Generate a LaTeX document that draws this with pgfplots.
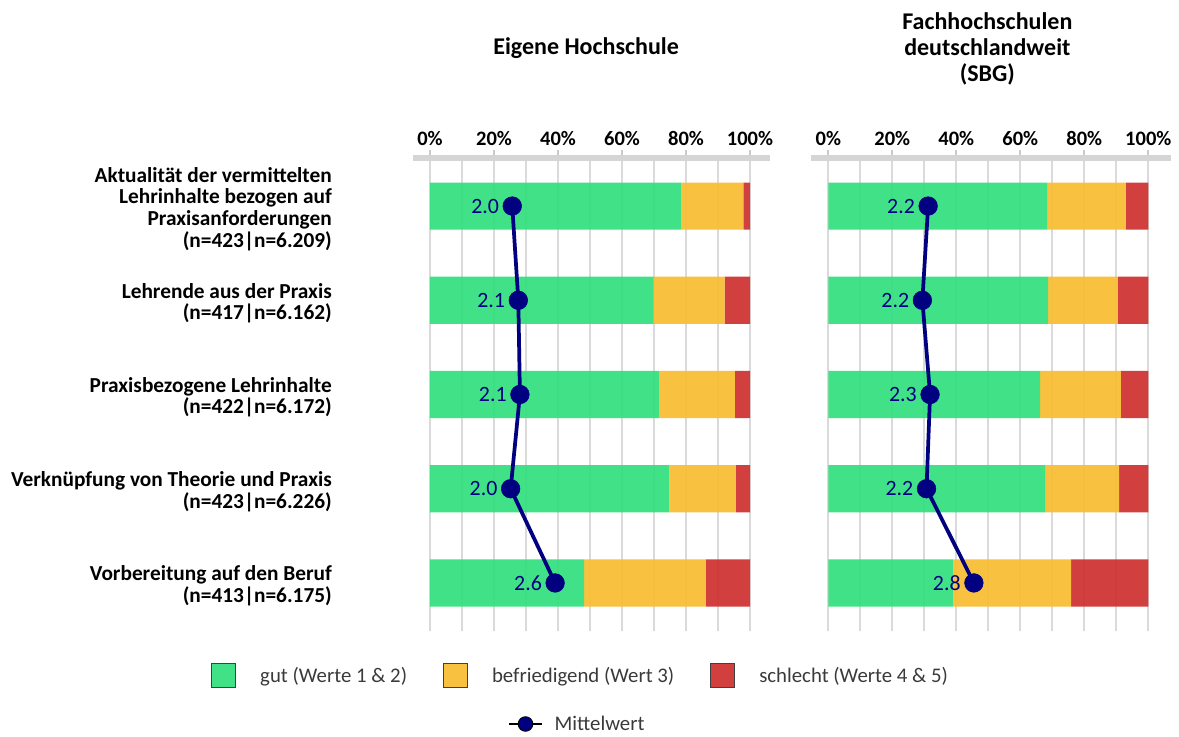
\documentclass[border=0pt]{standalone}
\usepackage{fontspec}
\setmainfont{Carlito}
\usepackage{pgfplots}
\usepackage{pgfplotstable}
\pgfplotsset{compat=1.18}
\definecolor{gut}{HTML}{35E07F}
\definecolor{mittel}{HTML}{F8BE34}
\definecolor{schlecht}{HTML}{CF3333}
\definecolor{mwblau}{HTML}{000080}
\definecolor{gridc}{HTML}{DADADA}
\definecolor{tickc}{HTML}{CACACA}
\definecolor{legtext}{HTML}{3A3A3A}
\newcommand\tickfont{\fontsize{15.4}{18}\selectfont\bfseries}
\newcommand\labfont{\fontsize{16}{16.3}\selectfont\bfseries}
\newcommand\titfont{\fontsize{18}{19.5}\selectfont\bfseries}
\newcommand\numfont{\fontsize{16.4}{18}\selectfont}
\newcommand\legfont{\fontsize{15.6}{18}\selectfont}

% Anteile in %, Mittelwert als Position auf der %-Achse
\pgfplotstableread{
y gut mittel schlecht mw lab
5 78.4 19.5 2.1 25.7 2.0
4 69.9 22.2 7.9 27.6 2.1
3 71.5 23.8 4.7 28.1 2.1
2 74.8 20.7 4.5 25.2 2.0
1 48.2 38.0 13.8 39.1 2.6
}\eigene
\pgfplotstableread{
y gut mittel schlecht mw lab
5 68.4 24.5 7.1 31.2 2.2
4 68.7 21.8 9.5 29.4 2.2
3 66.2 25.2 8.6 31.8 2.3
2 67.9 23.0 9.1 30.7 2.2
1 39.1 36.8 24.1 45.5 2.8
}\sbg

\tikzset{rowlab/.style={anchor=east, align=right, inner sep=0pt, font=\labfont, xshift=-60.5pt, yshift=-3.5pt}}
\pgfplotsset{
  mycommon/.style={scale only axis, height=354.75pt, ymin=0.49, ymax=5.51, clip=false},
  barax/.style={mycommon,
    xbar stacked, bar width=0.5,
    ytick=\empty, axis line style={draw=none},
    xtick={0,20,...,100}, minor xtick={10,30,...,90},
    xticklabels={0\%,20\%,40\%,60\%,80\%,100\%},
    xtick pos=right, xticklabel pos=right, tick align=outside,
    major tick length=6pt, minor tick length=0pt,
    xmajorgrids, xminorgrids,
    major grid style={gridc, line width=1.5pt},
    minor grid style={gridc, line width=1.5pt},
    xtick style={tickc, line width=1.5pt},
    ticklabel style={font=\tickfont},
    title style={at={(0.5,1)}, anchor=center, align=center, font=\titfont},
  },
  lineax/.style={mycommon, hide axis},
  mwline/.style={mwblau, line width=2.8pt, mark=*, mark size=7pt,
    mark options={solid, line width=0.4pt}, forget plot,
    nodes near coords, point meta=explicit symbolic,
    every node near coord/.append style={anchor=east, xshift=-9.75pt,
      inner sep=0pt, font=\numfont, text=mwblau}},
}

\begin{document}
\begin{tikzpicture}
\useasboundingbox (0,0) rectangle (884.25pt,-552pt);

% --- Eigene Hochschule ---
\begin{axis}[barax, at={(309.54pt,-473.25pt)}, anchor=south west,
  width=268.08pt, xmin=-5.4, xmax=106.3,
  title={Eigene Hochschule}, title style={yshift=76.5pt, xshift=-4pt},
  legend columns=3,
  legend image code/.code={\draw[#1, draw=black!75, line width=0.75pt] (0pt,-9pt) rectangle (18pt,9pt);},
  legend style={at={(-0.5756,-0.0951)}, anchor=west, draw=none, fill=none,
    font=\legfont, text=legtext,
    /tikz/every odd column/.style={column sep=16pt},
    /tikz/every even column/.style={column sep=25pt}},
]
\addplot[fill=gut, draw=none, fill opacity=0.94] table[x=gut, y=y] {\eigene};
\addplot[fill=mittel, draw=none, fill opacity=0.94] table[x=mittel, y=y] {\eigene};
\addplot[fill=schlecht, draw=none, fill opacity=0.94] table[x=schlecht, y=y] {\eigene};
\legend{gut (Werte 1 \& 2), befriedigend (Wert 3), schlecht (Werte 4 \& 5)}
\draw[tickc!80, line width=4.5pt] (rel axis cs:0,1) -- (rel axis cs:1,1);
\node[rowlab] at (rel axis cs:0,0.9023) {Aktualität der vermittelten\\Lehrinhalte bezogen auf\\Praxisanforderungen\\(n=423|n=6.209)};
\node[rowlab] at (rel axis cs:0,0.7031) {Lehrende aus der Praxis\\(n=417|n=6.162)};
\node[rowlab] at (rel axis cs:0,0.5039) {Praxisbezogene Lehrinhalte\\(n=422|n=6.172)};
\node[rowlab] at (rel axis cs:0,0.3047) {Verknüpfung von Theorie und Praxis\\(n=423|n=6.226)};
\node[rowlab] at (rel axis cs:0,0.1055) {Vorbereitung auf den Beruf\\(n=413|n=6.175)};
\end{axis}
\begin{axis}[lineax, at={(309.54pt,-473.25pt)}, anchor=south west,
  width=268.08pt, xmin=-5.4, xmax=106.3,
  legend image code/.code={\draw[mark repeat=2, mark phase=2, #1] plot coordinates {(0pt,0pt) (12.4pt,0pt) (24.75pt,0pt)};},
  legend style={at={(0.2555,-0.1966)}, anchor=west, draw=none, fill=none,
    font=\legfont, text=legtext,
    /tikz/every odd column/.style={column sep=7pt}},
]
\addplot[mwline] table[x=mw, y=y, meta=lab] {\eigene};
\addlegendimage{black, line width=1pt, mark=*, mark size=5.5pt, mark options={fill=mwblau, draw=black, line width=0.6pt}}
\addlegendentry{Mittelwert}
\end{axis}

% --- Fachhochschulen deutschlandweit (SBG) ---
\begin{axis}[barax, at={(608.5pt,-473.25pt)}, anchor=south west,
  width=270pt, xmin=-5.3, xmax=107.2,
  title={Fachhochschulen\\deutschlandweit\\(SBG)}, title style={yshift=76.15pt, xshift=-3pt},
]
\addplot[fill=gut, draw=none, fill opacity=0.94] table[x=gut, y=y] {\sbg};
\addplot[fill=mittel, draw=none, fill opacity=0.94] table[x=mittel, y=y] {\sbg};
\addplot[fill=schlecht, draw=none, fill opacity=0.94] table[x=schlecht, y=y] {\sbg};
\draw[tickc!80, line width=4.5pt] (rel axis cs:0,1) -- (rel axis cs:1,1);
\end{axis}
\begin{axis}[lineax, at={(608.5pt,-473.25pt)}, anchor=south west,
  width=270pt, xmin=-5.3, xmax=107.2]
\addplot[mwline] table[x=mw, y=y, meta=lab] {\sbg};
\end{axis}
\end{tikzpicture}
\end{document}
